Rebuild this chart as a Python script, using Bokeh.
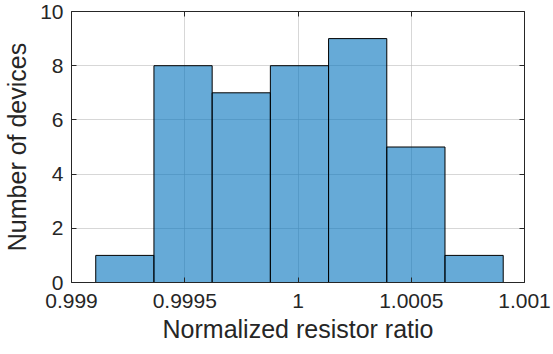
from bokeh.plotting import figure
from bokeh.models import Range1d, FixedTicker, LinearAxis
from bokeh.embed import file_html
from bokeh.resources import INLINE

# Data
bin_edges = [0.999107, 0.999364, 0.999621, 0.999878, 1.000135, 1.000392, 1.000649, 1.000906]
counts = [1, 8, 7, 8, 9, 5, 1]
x_ticks = [0.999, 0.9995, 1.0, 1.0005, 1.001]
x_tick_labels = ["0.999", "0.9995", "1", "1.0005", "1.001"]
y_ticks = [0, 2, 4, 6, 8, 10]

FONT = "Liberation Sans"
DARK = "#262626"

p = figure(width=553, height=354, output_backend="svg", toolbar_location=None,
           x_range=Range1d(0.999 - 1e-9, 1.001 + 1e-9), y_range=Range1d(0, 10),
           min_border_left=71, min_border_right=29, min_border_top=11, min_border_bottom=72)

p.quad(left=bin_edges[:-1], right=bin_edges[1:], top=counts, bottom=0,
       fill_color="#0072BD", fill_alpha=0.6, line_color="black", line_width=1)

p.xaxis.ticker = FixedTicker(ticks=x_ticks)
p.xaxis.major_label_overrides = {t: l for t, l in zip(x_ticks, x_tick_labels)}
p.yaxis.ticker = FixedTicker(ticks=y_ticks)
p.xgrid.ticker = FixedTicker(ticks=x_ticks)
p.ygrid.ticker = FixedTicker(ticks=y_ticks)
p.grid.grid_line_color = "#BDBDBD"
p.grid.grid_line_alpha = 0.6

for ax in [p.xaxis[0], p.yaxis[0]]:
    ax.minor_tick_line_color = None
    ax.major_tick_in = 5
    ax.major_tick_out = 0
    ax.axis_line_color = DARK
    ax.major_tick_line_color = DARK
    ax.major_label_text_font = FONT
    ax.major_label_text_font_size = "21px"
    ax.major_label_text_color = DARK
    ax.axis_label_text_font = FONT
    ax.axis_label_text_font_size = "25px"
    ax.axis_label_text_color = DARK
    ax.axis_label_text_font_style = "normal"

p.xaxis.axis_label = "Normalized resistor ratio"
p.yaxis.axis_label = "Number of devices"
p.xaxis.major_label_standoff = 11
p.yaxis.major_label_standoff = 8
p.xaxis.axis_label_standoff = 4
p.yaxis.axis_label_standoff = 6

top_ax = LinearAxis(ticker=FixedTicker(ticks=x_ticks))
right_ax = LinearAxis(ticker=FixedTicker(ticks=y_ticks))
for ax in [top_ax, right_ax]:
    ax.minor_tick_line_color = None
    ax.major_tick_in = 5
    ax.major_tick_out = 0
    ax.axis_line_color = DARK
    ax.major_tick_line_color = DARK
    ax.major_label_standoff = 0
    ax.major_label_text_font_size = "1px"
    ax.major_label_text_color = None
p.add_layout(top_ax, "above")
p.add_layout(right_ax, "right")

p.outline_line_color = None

open("out.html", "w").write(file_html(p, INLINE))
